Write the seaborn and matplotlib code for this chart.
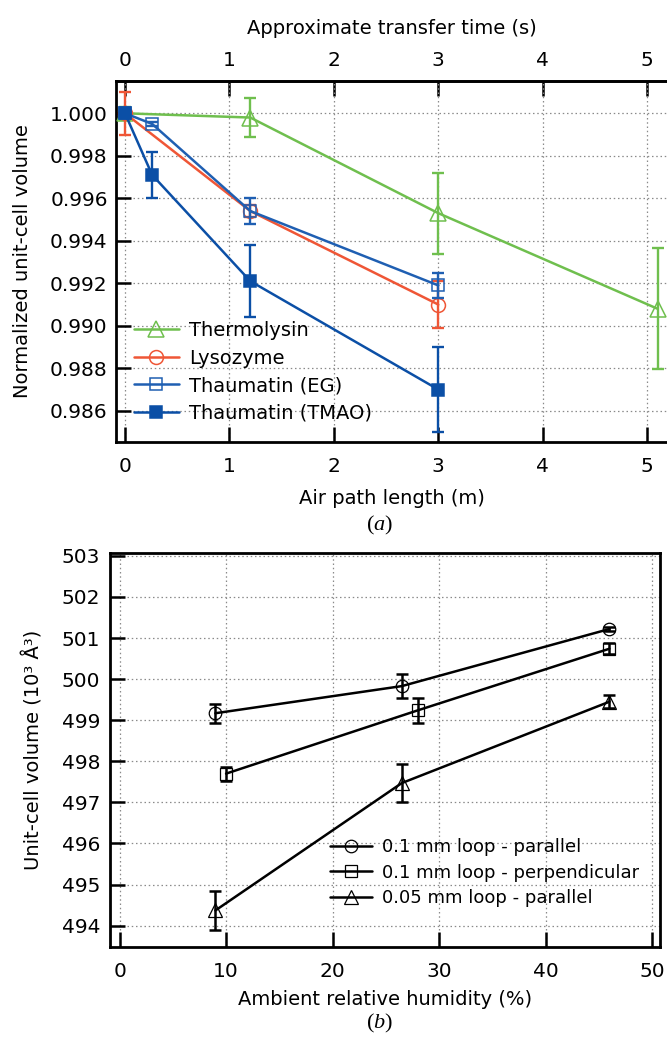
import numpy as np
import pandas as pd
import matplotlib
matplotlib.use("Agg")
import matplotlib.pyplot as plt
import seaborn as sns

# ---- panel (a) data ----
therm_x = [0, 1.2, 3, 5.1]
therm_y = [1.0000, 0.9998, 0.9953, 0.9908]
therm_e = [0.0003, 0.0009, 0.0019, 0.00285]

lyso_x = [0, 1.2, 3]
lyso_y = [1.0000, 0.9954, 0.9910]
lyso_e = [0.0010, 0.0003, 0.0011]

eg_x = [0, 0.26, 1.2, 3]
eg_y = [1.0000, 0.9995, 0.9954, 0.9919]
eg_e = [0.0002, 0.0001, 0.0006, 0.0006]

tmao_x = [0, 0.26, 1.2, 3]
tmao_y = [1.0000, 0.9971, 0.9921, 0.9870]
tmao_e = [0.0002, 0.0011, 0.0017, 0.0020]

a_xticks = [0, 1, 2, 3, 4, 5]
a_yticks = [0.986, 0.988, 0.990, 0.992, 0.994, 0.996, 0.998, 1.000]

# ---- panel (b) data ----
par01_x = [9, 26.5, 46]
par01_y = [499.17, 499.83, 501.22]
par01_e = [0.23, 0.30, 0.05]

perp01_x = [10, 28, 46]
perp01_y = [497.70, 499.24, 500.74]
perp01_e = [0.17, 0.30, 0.14]

par005_x = [9, 26.5, 46]
par005_y = [494.37, 497.47, 499.45]
par005_e = [0.48, 0.47, 0.16]

b_xticks = [0, 10, 20, 30, 40, 50]
b_yticks = list(range(494, 504))

sns.set_style("white")
plt.rcParams['font.family'] = ['DejaVu Sans']
plt.rcParams['text.color'] = 'black'
plt.rcParams['axes.labelcolor'] = 'black'
plt.rcParams['xtick.color'] = 'black'
plt.rcParams['ytick.color'] = 'black'
plt.rcParams['mathtext.fontset'] = 'custom'
plt.rcParams['mathtext.rm'] = 'Liberation Serif'
plt.rcParams['mathtext.it'] = 'Liberation Serif:italic'

TICK_FS = 14.5
LAB_FS = 14

fig = plt.figure(figsize=(6.67, 10.37), dpi=100)
axA = fig.add_axes([116 / 667, 1 - 442 / 1037, 1 - 116 / 667, (442 - 81) / 1037])
axB = fig.add_axes([110 / 667, 1 - 947 / 1037, 550 / 667, (947 - 553) / 1037])

GREEN = '#6fbf4e'
RED = '#ef5636'
BLUE = '#1f5fb2'
BLUE2 = '#0b4fa6'

GRID_KW = dict(linestyle=(0, (1.2, 2.2)), color='#8a8a8a', linewidth=0.9)

seriesA = [
    ("Thermolysin", therm_x, therm_y, therm_e, GREEN, '^', 'none', 11),
    ("Lysozyme", lyso_x, lyso_y, lyso_e, RED, 'o', 'none', 10),
    ("Thaumatin (EG)", eg_x, eg_y, eg_e, BLUE, 's', 'none', 9),
    ("Thaumatin (TMAO)", tmao_x, tmao_y, tmao_e, BLUE2, 's', BLUE2, 9),
]

for name, xs, ys, es, c, m, fc, ms in seriesA:
    df = pd.DataFrame({"x": xs, "y": ys})
    sns.lineplot(data=df, x="x", y="y", ax=axA, color=c, marker=m,
                 markersize=ms, markerfacecolor=fc, markeredgecolor=c,
                 markeredgewidth=1.1, linewidth=1.8, label=name,
                 clip_on=False, zorder=3)
    axA.errorbar(xs, ys, yerr=es, fmt='none', ecolor=c, elinewidth=1.7,
                 capsize=4, capthick=1.7, clip_on=False, zorder=3)

axA.set_xlim(-0.086, 5.19)
axA.set_ylim(0.98453, 1.00152)
axA.set_xticks(a_xticks)
axA.set_yticks(a_yticks)
axA.set_yticklabels([f"{v:.3f}" for v in a_yticks])
axA.set_xlabel("Air path length (m)", fontsize=LAB_FS, labelpad=9)
axA.set_ylabel("Normalized unit-cell volume", fontsize=LAB_FS, labelpad=13)
axA.grid(True, **GRID_KW)
axA.tick_params(axis='x', direction='in', length=11, width=1.8,
                labelsize=TICK_FS, pad=11, bottom=True, color='black')
axA.tick_params(axis='y', direction='in', length=11, width=1.8,
                labelsize=TICK_FS, pad=6, left=True, color='black')
for s in ['left', 'bottom', 'top']:
    axA.spines[s].set_linewidth(2)
    axA.spines[s].set_color('black')
axA.spines['right'].set_visible(False)
secA = axA.secondary_xaxis('top')
secA.set_xticks(a_xticks)
secA.tick_params(direction='in', length=11, width=1.8, labelsize=TICK_FS,
                 pad=8, color='black')
secA.spines['top'].set_linewidth(2)
secA.set_xlabel("Approximate transfer time (s)", fontsize=LAB_FS, labelpad=12)
axA.legend(loc='upper left', frameon=False, fontsize=LAB_FS,
           handlelength=2.3, handletextpad=0.55, labelspacing=0.44,
           borderpad=0, borderaxespad=0,
           bbox_to_anchor=((134 - 116) / 551, (442 - 321) / 361))

seriesB = [
    ("0.1 mm loop - parallel", par01_x, par01_y, par01_e, 'o', 9),
    ("0.1 mm loop - perpendicular", perp01_x, perp01_y, perp01_e, 's', 9),
    ("0.05 mm loop - parallel", par005_x, par005_y, par005_e, '^', 10),
]
for name, xs, ys, es, m, ms in seriesB:
    df = pd.DataFrame({"x": xs, "y": ys})
    sns.lineplot(data=df, x="x", y="y", ax=axB, color='black', marker=m,
                 markersize=ms, markerfacecolor='none', markeredgecolor='black',
                 markeredgewidth=0.9, linewidth=1.8, label=name, zorder=3)
    axB.errorbar(xs, ys, yerr=es, fmt='none', ecolor='black', elinewidth=1.8,
                 capsize=4.5, capthick=1.8, zorder=3)

axB.set_xlim(-0.9, 50.75)
axB.set_ylim(493.48, 503.07)
axB.set_xticks(b_xticks)
axB.set_yticks(b_yticks)
axB.set_xlabel("Ambient relative humidity (%)", fontsize=LAB_FS, labelpad=6)
axB.set_ylabel("Unit-cell volume (10³ Å³)", fontsize=LAB_FS, labelpad=13)
axB.grid(True, **GRID_KW)
axB.tick_params(axis='x', direction='in', length=11, width=1.8,
                labelsize=TICK_FS, pad=11, bottom=True, color='black')
axB.tick_params(axis='y', direction='in', length=11, width=1.8,
                labelsize=TICK_FS, pad=7, left=True, color='black')
for s in ['left', 'bottom', 'top', 'right']:
    axB.spines[s].set_linewidth(2)
    axB.spines[s].set_color('black')
axB.legend(loc='upper left', frameon=False, fontsize=13, handlelength=2.3,
           handletextpad=0.6, labelspacing=0.42, borderpad=0, borderaxespad=0,
           bbox_to_anchor=((330 - 110) / 550, (947 - 838) / 394))

fig.text(380 / 667, 1 - 525 / 1037, "($a$)", ha='center', va='center',
         fontsize=16, family='Liberation Serif')
fig.text(380 / 667, 1 - 1023 / 1037, "($b$)", ha='center', va='center',
         fontsize=16, family='Liberation Serif')

fig.savefig("out.png", dpi=100)
